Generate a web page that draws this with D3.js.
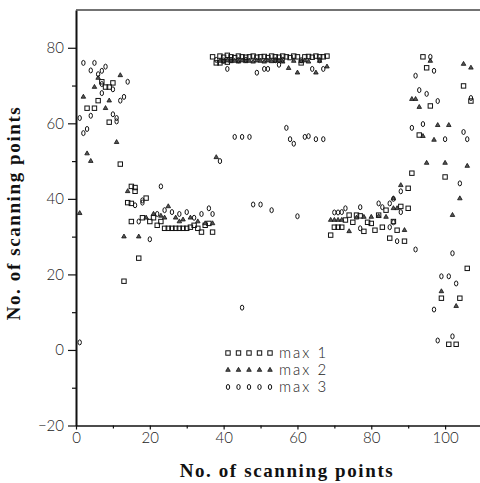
<!DOCTYPE html>
<html>
<head>
<meta charset="utf-8">
<script src="https://cdn.jsdelivr.net/npm/d3@7"></script>
<style>
  body { margin: 0; background: #fff; }
  svg { display: block; }
  .tick text { font-family: Lato, "DejaVu Sans", sans-serif; font-weight: 300; font-size: 15px; fill: #222; }
  .axis-title { font-family: "Liberation Serif", serif; font-weight: bold; font-size: 19px; fill: #111; letter-spacing: 1.6px; }
  .legend text { font-family: Lato, "DejaVu Sans", sans-serif; font-weight: 300; font-size: 15px; fill: #222; letter-spacing: 2px; }
</style>
</head>
<body>
<svg id="drawing_region"></svg>
<script>
// tick labels
const xTicks = [0, 20, 40, 60, 80, 100];
const xMinor = [10, 30, 50, 70, 90];
const yTicks = [-20, 0, 20, 40, 60, 80];
const yMinor = [-10, 10, 30, 50, 70];

const seriesNames = ['max 1', 'max 2', 'max 3'];

// max 1 (squares): [scanning point, value]
const max1 = [
  [3,64],[5,64],[6,66],[7,71],[8,69.6],[9,69.6],[10,70.7],[9,60.3],[12,49.2],[13,18.2],
  [14,39],[15,43.3],[16,43],[16,42],[15,38.8],[15,34],[17,24.3],[19,40.2],
  [18,35],[20,34],[21,35],[22,33],[23,34],[24,32.2],[25,32.2],[26,32.2],[27,32.2],[28,32.2],
  [29,32.2],[30,32.2],[31,32.5],[32,33],[33,32.2],[34,31.2],[35,33],[36,33.5],[37,31.2],
  [37,77.6],[38,76],[39,77.8],[40,77.5],[41,78],[42,77.6],[43,77.4],[44,77.8],[45,77.6],[46,77.5],
  [47,77.6],[48,77.8],[49,77.5],[50,77.6],[51,77.7],[52,77.4],[53,77.8],[54,77.6],[55,77.5],[56,77.8],
  [57,77.6],[58,77.4],[59,77.8],[60,77.6],[61,76],[62,77.6],[63,77.7],[64,77.5],[65,77.8],[66,77.6],
  [67,77.6],[68,77.8],[39,76],[41,76.2],
  [69,30.4],[70,32.5],[71,32.5],[72,32.5],[73,34.4],[74,35.7],[75,33.8],[76,35.7],[77,35.5],[78,31.4],
  [79,33.8],[80,33.5],[81,31.7],[82,35.7],[83,32.5],[84,37],[85,29.6],[86,34],[87,31.7],[88,38],
  [89,28.8],[90,37.5],[90,42.8],[91,46.8],
  [94,77.6],[95,74.7],[96,64.6],[93,56.9],[100,45.8],[105,69.9],[107,65.9],[106,21.6],
  [99,13.7],[104,13.7],[101,1.5],[103,1.5]
];

// max 2 (triangles)
const max2 = [
  [1,36.2],[2,67],[3,52],[4,50],[5,69.6],[6,72],[8,64],[9,66],[11,55],[12,72.7],
  [14,42],[13,30],[17,30],[25,38],[19,35],[21,36],[23,35.5],[27,35],[29,34.5],[31,35],
  [33,34],[35,33.5],[37,33.5],[24,35],[28,34],
  [38,51],[39,76.5],[40,76.3],[41,76.6],[42,76.4],[43,76.5],[44,76.3],[45,76.6],[46,76.4],[47,76.5],
  [48,76.3],[49,76.6],[50,76.5],[51,76.3],[52,76.6],[53,76.4],[54,76.5],[55,76.6],[56,76.3],[57.6,74.6],
  [59,76.5],[60,73.4],[61,76.4],[62,76.6],[63,76.3],[65,73.4],[66,76.5],[68,75],
  [69,34.4],[70,34.4],[71,34.4],[72,34.4],[74,31.4],[76,35],[78,35.2],[80,35.2],[82,35.4],[84,35.2],
  [86,37.5],[87,37.5],[88,43.6],[89,31.7],[86,40.1],
  [96,76.5],[105,75.7],[107,74.7],[91,66.4],[92,66.4],[93,64.3],[98,59.5],[101,59.5],[94,56.6],[97,55.6],
  [95,49.5],[100,49.5],[106,48.7],[104,40.1],[102,35.7],[99,15.5],[103,11.6]
];

// max 3 (diamonds)
const max3 = [
  [1,61.4],[1,2],[2,76],[5,76],[4,74],[7,73.9],[8,75],[6,73],[7,70.4],[10,69],[7,68],[14,71],[13,67],
  [12,66],[4,62],[10,62.4],[11,61.4],[11,60.5],[3,58.5],[2,57.4],
  [16,38.3],[18,39.6],[18,39],[17,34],[20,29.3],[23,43.3],[22,36],[24,37],[26,36.5],[28,36],
  [30,36.5],[32,35],[34,36],[36,37.5],[37,36],
  [38,76.8],[39,50],[40,76.6],[41,74.4],[42,76.8],[43,56.4],[44,76.7],[45,56.4],[46,76.8],[47,56.4],
  [45,11.2],[48,38.5],[49,73.4],[50,38.5],[51,74.4],[52,74.4],[53,37],[54,76.7],[55,75.5],[56,76.8],
  [57,58.8],[58,55.8],[59,54.6],[60,35.4],[61,76.7],[62,56.4],[63,56.6],[64,74.4],[65,55.8],[66,76.7],
  [67,55.8],[67,74.4],
  [70,36.4],[71,36.4],[72,36.5],[73,37.5],[77,37.8],[77,32.2],[82,38.8],[83,37.8],[85,38.8],[86,40],
  [88,36.5],[87,28.8],[85,32.5],[86,33.8],[88,42],[92,26.6],
  [96,77.6],[97,73.9],[92,72.6],[93,68.8],[95,67.8],[107,66.7],[98,65.9],[91,58.8],[94,59.8],[100,55.8],
  [105,57.7],[106,55.8],[104,44.1],[102,25.6],[99,19.5],[101,19.5],[103,17.6],[97,10.7],[98,2.5],[102,3.6]
];

const width = 480, height = 483;

const svg = d3.select('#drawing_region')
    .attr('width', width)
    .attr('height', height);

const xscale = d3.scaleLinear().domain([0, 110]).range([76, 482]);
const yscale = d3.scaleLinear().domain([-20, 90]).range([425.5, 10]);

// draws one marker of a given series at (cx, cy)
function marker(g, kind, cx, cy) {
  if (kind === 0) {
    g.append('rect')
        .attr('x', cx - 2.2).attr('y', cy - 2.2)
        .attr('width', 4.4).attr('height', 4.4)
        .attr('fill', 'none').attr('stroke', '#111').attr('stroke-width', 1);
  } else if (kind === 1) {
    g.append('path')
        .attr('d', d3.symbol().type(d3.symbolTriangle).size(9)())
        .attr('transform', `translate(${cx},${cy})`)
        .attr('fill', '#555').attr('stroke', '#111').attr('stroke-width', 0.8);
  } else {
    g.append('ellipse')
        .attr('cx', cx).attr('cy', cy)
        .attr('rx', 1.7).attr('ry', 2.5)
        .attr('fill', 'none').attr('stroke', '#111').attr('stroke-width', 1);
  }
}

// axes
const yaxis = svg.append('g')
    .attr('transform', `translate(${xscale(0)},0)`)
    .call(d3.axisLeft(yscale).tickValues(yTicks).tickSize(8).tickPadding(4).tickSizeOuter(0));
svg.append('g')
    .attr('transform', `translate(${xscale(0)},0)`)
    .call(d3.axisLeft(yscale).tickValues(yMinor).tickSize(4).tickFormat('').tickSizeOuter(0))
    .select('.domain').remove();

const xaxis = svg.append('g')
    .attr('transform', `translate(0,${yscale(-20)})`)
    .call(d3.axisBottom(xscale).tickValues(xTicks).tickSize(4).tickPadding(3).tickSizeOuter(0));
svg.append('g')
    .attr('transform', `translate(0,${yscale(-20)})`)
    .call(d3.axisBottom(xscale).tickValues(xMinor).tickSize(3).tickFormat('').tickSizeOuter(0))
    .select('.domain').remove();

svg.selectAll('.domain').attr('stroke', '#111');
yaxis.select('.domain').attr('stroke-width', 2);
xaxis.select('.domain').attr('stroke-width', 1.4);
svg.selectAll('.tick line').attr('stroke', '#111').attr('stroke-width', 1.2);
yaxis.selectAll('.tick text').text(d => d < 0 ? '\u2212' + Math.abs(d) : d);

// top frame
svg.append('line')
    .attr('x1', xscale(0)).attr('x2', xscale(110))
    .attr('y1', yscale(90)).attr('y2', yscale(90))
    .attr('stroke', '#444').attr('stroke-width', 1.4);

// points
const chart = svg.append('g');
[max1, max2, max3].forEach((series, k) => {
  series.forEach(d => marker(chart, k, xscale(d[0]), yscale(d[1])));
});

// legend
const legend = svg.append('g').attr('class', 'legend');
seriesNames.forEach((name, k) => {
  const ly = 353 + k * 17;
  for (let i = 0; i < 5; i++) marker(legend, k, 228 + i * 10.5, ly);
  legend.append('text')
      .attr('x', 279).attr('y', ly + 5)
      .text(name);
});

// axis titles
svg.append('text')
    .attr('class', 'axis-title')
    .attr('x', 287).attr('y', 477)
    .attr('text-anchor', 'middle')
    .text('No. of scanning points');

svg.append('text')
    .attr('class', 'axis-title')
    .attr('transform', 'translate(20,213) rotate(-90)')
    .attr('text-anchor', 'middle')
    .text('No. of scanning points');
</script>
</body>
</html>
